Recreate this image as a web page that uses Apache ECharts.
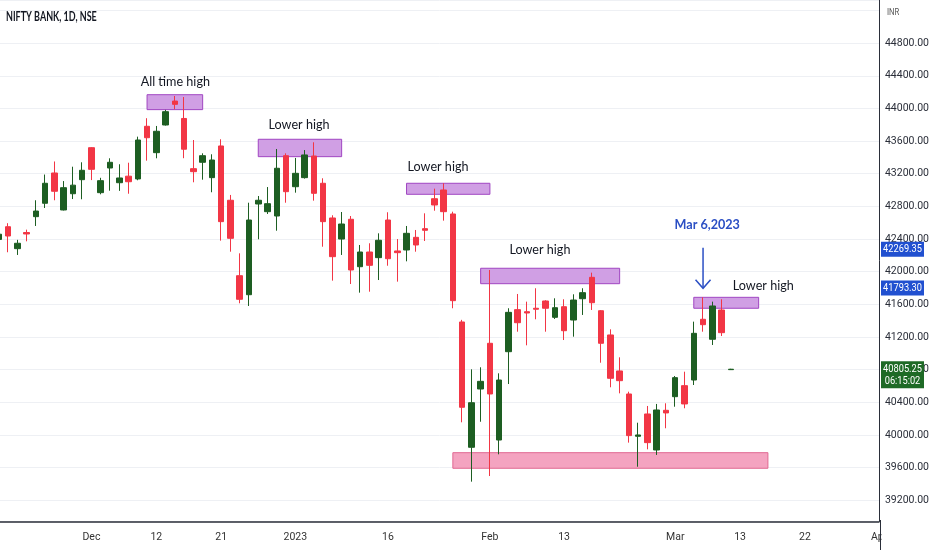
<!DOCTYPE html>
<html>
<head>
<meta charset="utf-8">
<script src="https://cdn.jsdelivr.net/npm/echarts@6/dist/echarts.min.js"></script>
<style>
html,body{margin:0;padding:0;background:#fff;}
#c{width:932px;height:550px;}
</style>
</head>
<body>
<div id="c"></div>
<script>
// ---- data ----
const dates = [
 '2022-11-17','2022-11-18','2022-11-21','2022-11-22','2022-11-23','2022-11-24','2022-11-25','2022-11-28','2022-11-29','2022-11-30',
 '2022-12-01','2022-12-02','2022-12-05','2022-12-06','2022-12-07','2022-12-08','2022-12-09','2022-12-12','2022-12-13','2022-12-14',
 '2022-12-15','2022-12-16','2022-12-19','2022-12-20','2022-12-21','2022-12-22','2022-12-23','2022-12-26','2022-12-27','2022-12-28',
 '2022-12-29','2022-12-30','2023-01-02','2023-01-03','2023-01-04','2023-01-05','2023-01-06','2023-01-09','2023-01-10','2023-01-11',
 '2023-01-12','2023-01-13','2023-01-16','2023-01-17','2023-01-18','2023-01-19','2023-01-20','2023-01-23','2023-01-24','2023-01-25',
 '2023-01-27','2023-01-30','2023-01-31','2023-02-01','2023-02-02','2023-02-03','2023-02-06','2023-02-07','2023-02-08','2023-02-09',
 '2023-02-10','2023-02-13','2023-02-14','2023-02-15','2023-02-16','2023-02-17','2023-02-20','2023-02-21','2023-02-22','2023-02-23',
 '2023-02-24','2023-02-27','2023-02-28','2023-03-01','2023-03-02','2023-03-03','2023-03-06','2023-03-08','2023-03-09','2023-03-10'
];
const futureDates = [
 '2023-03-13','2023-03-14','2023-03-15','2023-03-16','2023-03-17','2023-03-20','2023-03-21','2023-03-22','2023-03-23','2023-03-24',
 '2023-03-27','2023-03-28','2023-03-29','2023-03-30','2023-03-31','2023-04-03'
];
const open = [
 42395,42551,42282,42480,42674,42838,43209,42756,42955,43127,
 43519,42968,43270,43090,43170,43136,43781,43458,43797,44090,
 43877,43262,43340,43152,43540,42875,41951,41718,42829,42735,
 42682,43421,43041,43152,43417,43083,42658,42400,42642,42061,
 42241,42172,42633,42254,42266,42421,42527,42894,43001,42707,
 41384,39849,40563,41123,39938,41020,41535,41510,41552,41641,
 41441,41571,41408,41669,41931,41522,41225,40784,40502,39984,
 40257,39816,40302,40469,40604,40673,41417,41172,41531,40800
];
const high = [
 42486,42594,42390,42515,42875,43190,43350,43110,43286,43340,
 43525,43150,43389,43316,43335,43654,43880,43785,43982,44152,
 44140,43613,43450,43438,43622,42940,42225,42845,42927,43037,
 43503,43450,43393,43490,43585,43144,42691,42731,42682,42327,
 42348,42470,42728,42400,42560,42511,42715,43017,43083,42735,
 41410,40804,40829,42021,40755,41552,41727,41633,41797,41650,
 41674,41662,41723,41797,41988,41530,41294,40951,40530,40150,
 40355,40380,40388,40722,40775,41388,41686,41633,41662,40810
];
const low = [
 42376,42238,42205,42372,42560,42780,42875,42750,42890,42887,
 43122,42948,42992,42990,42955,43120,43360,43389,43790,43990,
 43390,43095,43127,42973,42380,42245,41613,41580,42397,42707,
 42502,42845,42968,43140,42870,42306,41890,42205,41849,41743,
 41755,41898,42073,41878,42127,42245,42376,42747,42625,41552,
 40155,39428,40162,39497,39763,40624,41265,41098,41417,41265,
 41421,41163,41204,41470,41531,40885,40584,40510,39906,39611,
 39824,39755,40082,40346,40327,40612,41265,41102,41212,40798
];
const close = [
 42459,42437,42348,42462,42743,43083,42985,43029,43060,43242,
 43254,43115,43340,43148,43102,43613,43641,43720,43960,44050,
 43500,43225,43421,43368,42613,42409,41662,42633,42875,42833,
 43267,42980,43205,43430,42960,42613,42184,42584,42021,42241,
 42078,42385,42159,42233,42470,42327,42507,42817,42735,41645,
 40339,40395,40657,40502,40673,41502,41375,41494,41540,41552,
 41559,41277,41653,41743,41620,41123,40694,40665,39992,40000,
 39906,40306,40270,40702,40380,41245,41351,41580,41253,40805.25
];
const timeLabels = {
 '2022-12-01':'Dec','2022-12-12':'12','2022-12-21':'21','2023-01-02':'2023','2023-01-16':'16',
 '2023-02-01':'Feb','2023-02-13':'13','2023-03-01':'Mar','2023-03-13':'13','2023-03-22':'22','2023-04-03':'Apr'
};
const zoneNames = ['ath','lh1','lh2','lh3','lh4','support'];
const zoneFrom   = ['2022-12-09','2022-12-27','2023-01-18','2023-01-31','2023-03-03','2023-01-25'];
const zoneTo     = ['2022-12-19','2023-01-09','2023-02-01','2023-02-21','2023-03-15','2023-03-16'];
const zoneTop    = [44168,43622,43083,42042,41686,39783];
const zoneBottom = [43985,43409,42948,41853,41552,39592];
const noteTexts  = ['All time high','Lower high','Lower high','Lower high','Lower high','Mar 6,2023'];
const noteAt     = [19.05,32.4,47.4,58.4,82.5,76.45];
const notePrice  = [44335,43809,43285,42266,41837,42584];
const arrowDate = '2023-03-06';
const arrowFrom = 42294, arrowTo = 41797;
const priceTags = [42269.35, 41793.30];
const lastPrice = 40805.25;
const countdown = '06:15:02';
const chartTitle = 'NIFTY BANK, 1D, NSE';
const currency = 'INR';
const topUnlabelled = 45200; // grid level where the currency name sits instead of a price

// ---- build ----
const UP = '#1d5e22', DOWN = '#f23645';
const allDates = dates.concat(futureDates);
const idx = d => allDates.indexOf(d);
const candles = dates.map((d, i) => [i, open[i], close[i], low[i], high[i]]);
const labelByIndex = {};
Object.keys(timeLabels).forEach(d => { labelByIndex[idx(d)] = timeLabels[d]; });
const labelIdx = Object.keys(labelByIndex).map(Number);

const zonesData = zoneNames.map((n, k) => {
  const support = n === 'support';
  return [
    { coord: [idx(zoneFrom[k]), zoneTop[k]],
      itemStyle: { color: support ? '#f4a3c0' : '#d09fe4', borderColor: support ? '#e06891' : '#a046c2', borderWidth: 1 } },
    { coord: [idx(zoneTo[k]), zoneBottom[k]] }
  ];
});

const chart = echarts.init(document.getElementById('c'), null, { renderer: 'canvas' });
const option = {
  animation: false,
  backgroundColor: '#ffffff',
  grid: { left: 0, right: 51, top: 0, bottom: 28.5, containLabel: false },
  xAxis: {
    type: 'value', min: 0.13, max: 94.98,
    axisLine: { show: true, onZero: false, lineStyle: { color: '#2a2e39', width: 1.5 } },
    axisTick: { show: false },
    splitLine: { show: false },
    axisLabel: {
      customValues: labelIdx,
      formatter: v => labelByIndex[Math.round(v)] || '',
      color: '#333', fontSize: 10.5, margin: 10, fontFamily: 'Roboto'
    }
  },
  yAxis: {
    type: 'value', position: 'right', min: 38940, max: 45328,
    minInterval: 400, maxInterval: 400, splitNumber: 16,
    axisLine: { show: true, onZero: false, lineStyle: { color: '#2a2e39', width: 1 } },
    axisTick: { show: false },
    splitLine: { show: true, lineStyle: { color: '#eef0f4', width: 1 } },
    axisLabel: {
      showMinLabel: false, showMaxLabel: false,
      formatter: v => (v >= topUnlabelled ? '' : v.toFixed(2)),
      color: '#2a2e39', fontSize: 10.5, margin: 6, fontFamily: 'Roboto'
    }
  },
  series: [{
    type: 'candlestick',
    data: candles,
    encode: { x: 0, y: [1, 2, 3, 4] },
    barWidth: 6,
    clip: true,
    itemStyle: { color: UP, color0: DOWN, borderColor: UP, borderColor0: DOWN, borderWidth: 1 },
    markArea: { silent: true, z: 1, label: { show: false }, data: zonesData },
    z: 3
  }]
};
chart.setOption(option);

// annotations placed through the chart's own scales
const px = i => chart.convertToPixel({ xAxisIndex: 0 }, i);
const py = v => chart.convertToPixel({ yAxisIndex: 0 }, v);
const g = [];
function txt(text, x, y, opts) {
  g.push(Object.assign({
    type: 'text', x: x, y: y, z: 100,
    style: Object.assign({ text: text, fill: '#131722', align: 'center', verticalAlign: 'middle',
      textAlign: 'center', textVerticalAlign: 'middle', fontFamily: 'Lato', fontSize: 14 }, opts.style || {})
  }, opts.el || {}));
}
txt(chartTitle, 6, 16.5, { el: { scaleX: 0.72 }, style: { align: 'left', textAlign: 'left', fontFamily: 'Lato', fontSize: 12.5, fontWeight: 'bold', fill: '#131722' } });
txt(currency, 887, 13, { el: { scaleX: 0.85 }, style: { align: 'left', textAlign: 'left', fontFamily: 'Roboto', fontSize: 9, fill: '#555' } });
noteTexts.forEach((t, k) => {
  const blue = k === noteTexts.length - 1;
  txt(t, px(noteAt[k]), py(notePrice[k]), { el: { scaleX: 0.9 }, style: { fill: blue ? '#2b4fc4' : '#131722', fontWeight: blue ? 'bold' : 'normal' } });
});
// arrow
const ax = px(idx(arrowDate)), ay1 = py(arrowFrom), ay2 = py(arrowTo);
g.push({ type: 'line', z: 100, shape: { x1: ax, y1: ay1, x2: ax, y2: ay2 - 0.5 }, style: { stroke: '#2b4fc4', lineWidth: 1.5 } });
g.push({ type: 'polyline', z: 100, shape: { points: [[ax - 7.5, ay2 - 8.5], [ax, ay2], [ax + 7.5, ay2 - 8.5]] }, style: { stroke: '#2b4fc4', lineWidth: 1.5, fill: null } });
// future time label beyond the visible range, cut by the price scale
txt(timeLabels['2023-04-03'], px(idx('2023-04-03')), 537, { style: { fontFamily: 'Roboto', fontSize: 10.5, fill: '#333' } });
g.push({ type: 'rect', z: 110, shape: { x: 881.5, y: 522.5, width: 51, height: 28 }, style: { fill: '#fff' } });
g.push({ type: 'line', z: 120, shape: { x1: 880.5, y1: 520, x2: 880.5, y2: 550 }, style: { stroke: '#2a2e39', lineWidth: 1 } });
// price tags on the axis
priceTags.forEach(p => {
  const y = py(p);
  g.push({ type: 'rect', z: 130, shape: { x: 881, y: y - 8, width: 43, height: 15 }, style: { fill: '#2150d0' } });
  txt(p.toFixed(2), 902.5, y - 0.5, { el: { z: 131, scaleX: 0.88 }, style: { fontFamily: 'Roboto', fontSize: 10.5, fill: '#fff' } });
});
const ly = py(lastPrice);
g.push({ type: 'rect', z: 130, shape: { x: 881, y: ly - 8, width: 43, height: 27 }, style: { fill: '#1e6a26' } });
txt(lastPrice.toFixed(2), 902.5, ly, { el: { z: 131, scaleX: 0.88 }, style: { fontFamily: 'Roboto', fontSize: 10.5, fill: '#fff' } });
txt(countdown, 902.5, ly + 12.5, { el: { z: 131, scaleX: 0.88 }, style: { fontFamily: 'Roboto', fontSize: 10.5, fill: '#fff' } });
chart.setOption({ graphic: { elements: g } });
</script>
</body>
</html>
